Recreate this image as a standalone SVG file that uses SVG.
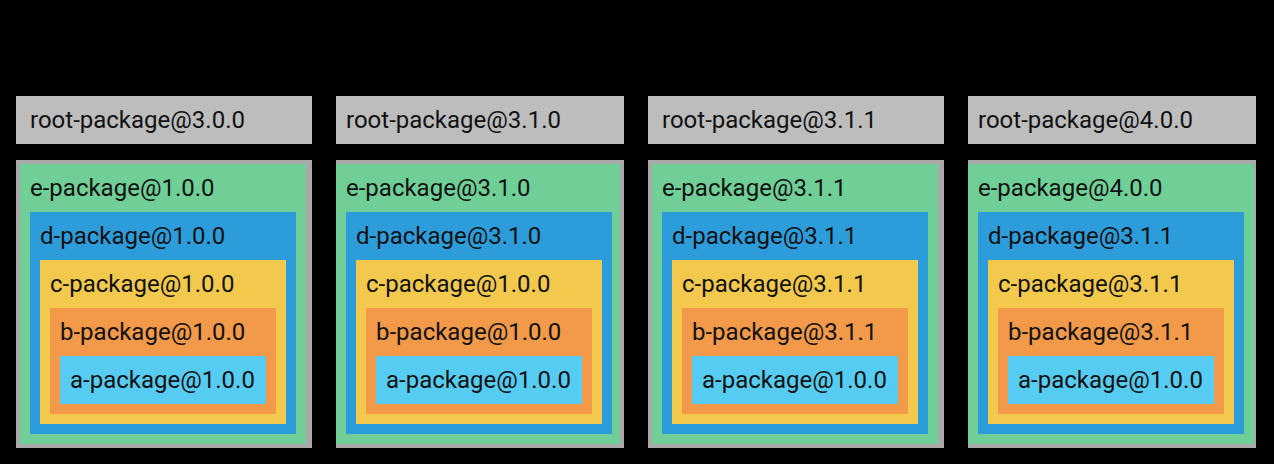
<svg xmlns="http://www.w3.org/2000/svg" width="1274" height="464" viewBox="0 0 1274 464">
<style>
text{font-family:Roboto,"Liberation Sans",sans-serif;font-size:24px;fill:#111}
.root{fill:#bdbdbd}.frame{fill:#a9a9a9}.e{fill:#6fcf97}.d{fill:#2d9cdb}.c{fill:#f2c94c}.b{fill:#f2994a}.a{fill:#56ccf2}
</style>
<rect width="1274" height="464" fill="#000"/>
<g id="col1">
<g id="root1"><rect class="root" x="16" y="96" width="296" height="48"/><text x="30" y="128">root-package@3.0.0</text></g>
<rect class="frame" x="16" y="160" width="296" height="288"/>
<g id="e1"><rect class="e" x="20" y="164" width="286" height="280"/><text x="30" y="196">e-package@1.0.0</text></g>
<g id="d1"><rect class="d" x="30" y="212" width="266" height="222"/><text x="40" y="244">d-package@1.0.0</text></g>
<g id="c1"><rect class="c" x="40" y="260" width="246" height="164"/><text x="50" y="292">c-package@1.0.0</text></g>
<g id="b1"><rect class="b" x="50" y="308" width="226" height="106"/><text x="60" y="340">b-package@1.0.0</text></g>
<g id="a1"><rect class="a" x="60" y="356" width="206" height="48"/><text x="70" y="388">a-package@1.0.0</text></g>
</g>
<g id="col2">
<g id="root2"><rect class="root" x="336" y="96" width="288" height="48"/><text x="346" y="128">root-package@3.1.0</text></g>
<rect class="frame" x="336" y="160" width="288" height="288"/>
<g id="e2"><rect class="e" x="336" y="164" width="284" height="280"/><text x="346" y="196">e-package@3.1.0</text></g>
<g id="d2"><rect class="d" x="346" y="212" width="266" height="222"/><text x="356" y="244">d-package@3.1.0</text></g>
<g id="c2"><rect class="c" x="356" y="260" width="246" height="164"/><text x="366" y="292">c-package@1.0.0</text></g>
<g id="b2"><rect class="b" x="366" y="308" width="226" height="106"/><text x="376" y="340">b-package@1.0.0</text></g>
<g id="a2"><rect class="a" x="376" y="356" width="206" height="48"/><text x="386" y="388">a-package@1.0.0</text></g>
</g>
<g id="col3">
<g id="root3"><rect class="root" x="648" y="96" width="296" height="48"/><text x="662" y="128">root-package@3.1.1</text></g>
<rect class="frame" x="648" y="160" width="296" height="288"/>
<g id="e3"><rect class="e" x="652" y="164" width="286" height="280"/><text x="662" y="196">e-package@3.1.1</text></g>
<g id="d3"><rect class="d" x="662" y="212" width="266" height="222"/><text x="672" y="244">d-package@3.1.1</text></g>
<g id="c3"><rect class="c" x="672" y="260" width="246" height="164"/><text x="682" y="292">c-package@3.1.1</text></g>
<g id="b3"><rect class="b" x="682" y="308" width="226" height="106"/><text x="692" y="340">b-package@3.1.1</text></g>
<g id="a3"><rect class="a" x="692" y="356" width="206" height="48"/><text x="702" y="388">a-package@1.0.0</text></g>
</g>
<g id="col4">
<g id="root4"><rect class="root" x="968" y="96" width="288" height="48"/><text x="978" y="128">root-package@4.0.0</text></g>
<rect class="frame" x="968" y="160" width="288" height="288"/>
<g id="e4"><rect class="e" x="968" y="164" width="286" height="280"/><text x="978" y="196">e-package@4.0.0</text></g>
<g id="d4"><rect class="d" x="978" y="212" width="266" height="222"/><text x="988" y="244">d-package@3.1.1</text></g>
<g id="c4"><rect class="c" x="988" y="260" width="246" height="164"/><text x="998" y="292">c-package@3.1.1</text></g>
<g id="b4"><rect class="b" x="998" y="308" width="226" height="106"/><text x="1008" y="340">b-package@3.1.1</text></g>
<g id="a4"><rect class="a" x="1008" y="356" width="206" height="48"/><text x="1018" y="388">a-package@1.0.0</text></g>
</g>
<g id="connectors"/>
</svg>
